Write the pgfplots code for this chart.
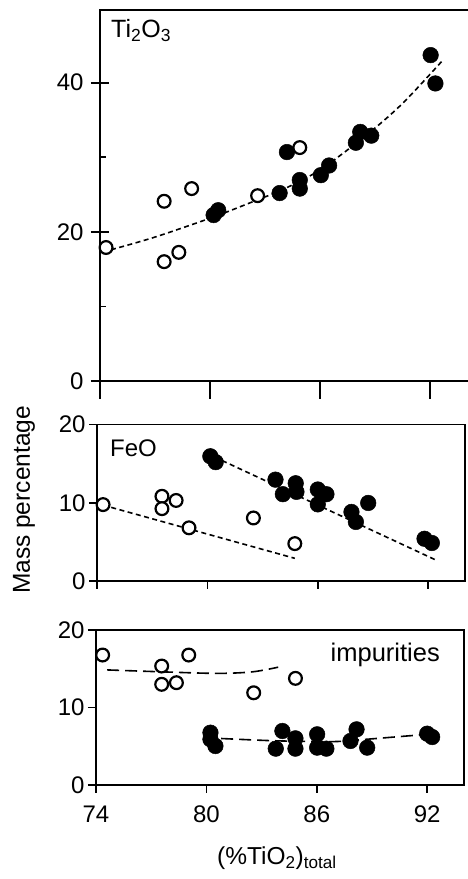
\documentclass[border=0pt]{standalone}
\usepackage{fontspec}
\setmainfont{Liberation Sans}
\usepackage{pgfplots}
\pgfplotsset{compat=1.18}

\pgfplotsset{
  panel/.style={
    scale only axis,
    xmin=74, xmax=94,
    xtick={74,80,86,92},
    xtick pos=bottom, ytick pos=left,
    axis line style={line width=1.8pt},
    every tick/.style={black, line width=1.6pt},
    major tick length=8pt,
    tick align=outside,
    /pgf/number format/assume math mode=true,
    tick label style={font=\fontsize{24}{26}\selectfont},
  },
  openpt/.style={only marks, mark=*, mark size=6.4pt,
    mark options={fill=white, draw=black, line width=2.2pt}},
  fullpt/.style={only marks, mark=*, mark size=7.8pt,
    mark options={fill=black, draw=black, line width=0.5pt}},
  shortdash/.style={black, line width=1.6pt, dash pattern=on 5pt off 3.5pt},
  longdash/.style={black, line width=1.6pt, dash pattern=on 12pt off 6pt},
}

\begin{document}
\begin{tikzpicture}[x=1pt, y=1pt]
\useasboundingbox (0pt,0pt) rectangle (467pt,879pt);

% top panel: Ti2O3 (its right edge lies beyond the picture)
\begin{axis}[panel, at={(100pt,498pt)}, anchor=south west,
  width=375pt, height=371pt, xmax=94.46,
  ymin=0, ymax=49.75,
  ytick={0,20,40}, minor ytick={10,30},
  xticklabels={},
  ytick align=center, major tick length=18pt, minor tick length=6pt,
  every minor tick/.append style={xshift=3pt},
  yticklabel shift=4pt]
\addplot[shortdash, smooth] coordinates {
  (74.6,17.6) (77,19.3) (80.2,22.0) (82.6,24.3) (84,25.7)
  (86,28.3) (88.5,32.9) (90.5,37.2) (92.7,43.0)};
\addplot[openpt] coordinates {
  (74.33,17.9) (77.5,24.1) (77.5,16.0) (78.3,17.25)
  (79.0,25.8) (82.6,24.85) (84.9,31.3)};
\addplot[fullpt] coordinates {
  (80.2,22.25) (80.45,22.9) (83.8,25.2) (84.2,30.7)
  (84.9,26.95) (84.9,25.8) (86.05,27.6) (86.5,28.9)
  (87.96,31.95) (88.2,33.4) (88.8,32.9) (92.04,43.7) (92.3,39.9)};
\end{axis}

% middle panel: FeO
\begin{axis}[panel, at={(97pt,298pt)}, anchor=south west,
  width=368pt, height=156.4pt,
  ymin=0, ymax=20, ytick={0,10,20},
  xticklabels={}]
\addplot[shortdash] coordinates {(74.33,9.7) (84.75,2.9)};
\addplot[shortdash] coordinates {(80.8,15.4) (92.4,2.7)};
\addplot[openpt] coordinates {
  (74.33,9.77) (77.53,10.83) (77.53,9.25) (78.3,10.3)
  (79.0,6.8) (82.5,8.06) (84.75,4.78)};
\addplot[fullpt] coordinates {
  (80.16,15.95) (80.45,15.2) (83.7,12.96) (84.1,11.1)
  (84.8,12.5) (84.84,11.4) (86.0,11.7) (86.0,9.8) (86.47,11.1)
  (87.83,8.83) (88.07,7.55) (88.74,9.98) (91.8,5.4) (92.2,4.86)};
\end{axis}

% bottom panel: impurities
\begin{axis}[panel, at={(96pt,94pt)}, anchor=south west,
  width=368pt, height=155pt,
  ymin=0, ymax=20, ytick={0,10,20},
  xticklabel shift=9pt]
\addplot[longdash, smooth] coordinates {
  (74.6,14.85) (77.6,14.6) (80.6,14.4) (82.5,14.6) (83.9,15.2)};
\addplot[longdash, smooth] coordinates {
  (80.8,6.0) (83.8,5.7) (86.9,5.6) (88.7,5.9) (91.8,6.5)};
\addplot[openpt] coordinates {
  (74.36,16.77) (77.57,15.35) (77.57,12.99) (78.37,13.2)
  (79.04,16.77) (82.57,11.9) (84.84,13.76)};
\addplot[fullpt] coordinates {
  (80.22,6.75) (80.22,5.9) (80.49,5.03) (83.77,4.69) (84.13,6.97)
  (84.84,6.02) (84.84,4.69) (86.02,6.54) (86.02,4.82) (86.52,4.69)
  (87.83,5.68) (88.16,7.18) (88.74,4.82) (92.0,6.62) (92.27,6.19)};
\end{axis}

% panel and axis labels
\node[anchor=base west, inner sep=0pt, font=\fontsize{25}{27}\selectfont]
  at (111pt,841pt) {Ti\textsubscript{2}O\textsubscript{3}};
\node[anchor=base west, inner sep=0pt, font=\fontsize{24}{26}\selectfont]
  at (110pt,422pt) {FeO};
\node[anchor=base east, inner sep=0pt, font=\fontsize{25.5}{27}\selectfont]
  at (440pt,217pt) {impurities};
\node[rotate=90, inner sep=0pt, font=\fontsize{24.5}{26}\selectfont]
  at (24pt,379pt) {Mass percentage};
\node[inner sep=0pt, font=\fontsize{24.5}{26}\selectfont]
  at (277pt,21pt) {(\%TiO\textsubscript{2})\textsubscript{total}};
\end{tikzpicture}
\end{document}
